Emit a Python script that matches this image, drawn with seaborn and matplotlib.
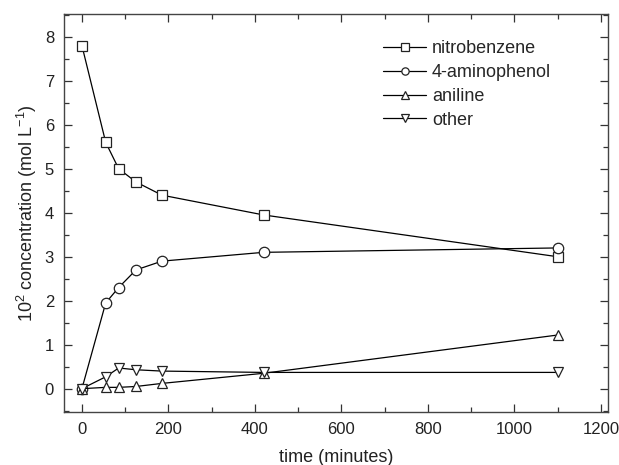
import numpy as np
import pandas as pd
import seaborn as sns
import matplotlib.pyplot as plt
from matplotlib.ticker import MultipleLocator

time_min = [0, 55, 85, 125, 185, 420, 1100]
nitrobenzene = [7.8, 5.6, 5.0, 4.7, 4.4, 3.95, 3.0]
aminophenol = [0.0, 1.95, 2.3, 2.7, 2.9, 3.1, 3.2]
aniline = [0.0, 0.03, 0.03, 0.05, 0.12, 0.35, 1.22]
other = [0.0, 0.27, 0.47, 0.43, 0.40, 0.37, 0.37]

series_names = ['nitrobenzene', '4-aminophenol', 'aniline', 'other']
series_markers = ['s', 'o', '^', 'v']


def main():
    sns.set_style('ticks')
    plt.rcParams['font.family'] = ['Liberation Sans', 'DejaVu Sans']
    plt.rcParams['mathtext.fontset'] = 'custom'
    plt.rcParams['mathtext.rm'] = 'Liberation Sans'
    plt.rcParams['mathtext.it'] = 'Liberation Sans:italic'

    values = [nitrobenzene, aminophenol, aniline, other]
    fig, ax = plt.subplots(figsize=(6.19, 4.65), dpi=100)
    for name, vals, mk in zip(series_names, values, series_markers):
        df = pd.DataFrame({'time': time_min, 'conc': vals})
        sns.lineplot(x='time', y='conc', data=df, ax=ax, color='black', lw=0.9,
                     marker=mk, markersize=7.5, markerfacecolor='white',
                     markeredgecolor='#222222', markeredgewidth=0.9, label=name)

    ax.set_xlim(-42, 1216)
    ax.set_ylim(-0.53, 8.52)
    ax.xaxis.set_major_locator(MultipleLocator(200))
    ax.xaxis.set_minor_locator(MultipleLocator(100))
    ax.yaxis.set_major_locator(MultipleLocator(1))
    ax.yaxis.set_minor_locator(MultipleLocator(0.5))
    ax.tick_params(which='both', direction='in', top=True, right=True,
                   colors='#333333', labelcolor='#222222', labelsize=12, width=0.9)
    ax.tick_params(which='major', length=6, pad=7)
    ax.tick_params(which='minor', length=3.5)
    for sp in ax.spines.values():
        sp.set_color('#444444')
        sp.set_linewidth(1.0)

    ax.set_xlabel('time (minutes)', fontsize=13, color='#222222', labelpad=9)
    ax.set_ylabel(r'10$^2$ concentration (mol L$^{-1}$)', fontsize=13, color='#222222', labelpad=4)

    ax.legend(loc='upper left', bbox_to_anchor=(0.557, 0.975), frameon=False,
              fontsize=13, handlelength=2.4, handletextpad=0.3, labelspacing=0.38,
              markerscale=0.7)

    plt.subplots_adjust(left=0.103, right=0.982, top=0.970, bottom=0.114)
    plt.savefig('out.png', dpi=100)
    plt.close()


if __name__ == "__main__":
    main()
